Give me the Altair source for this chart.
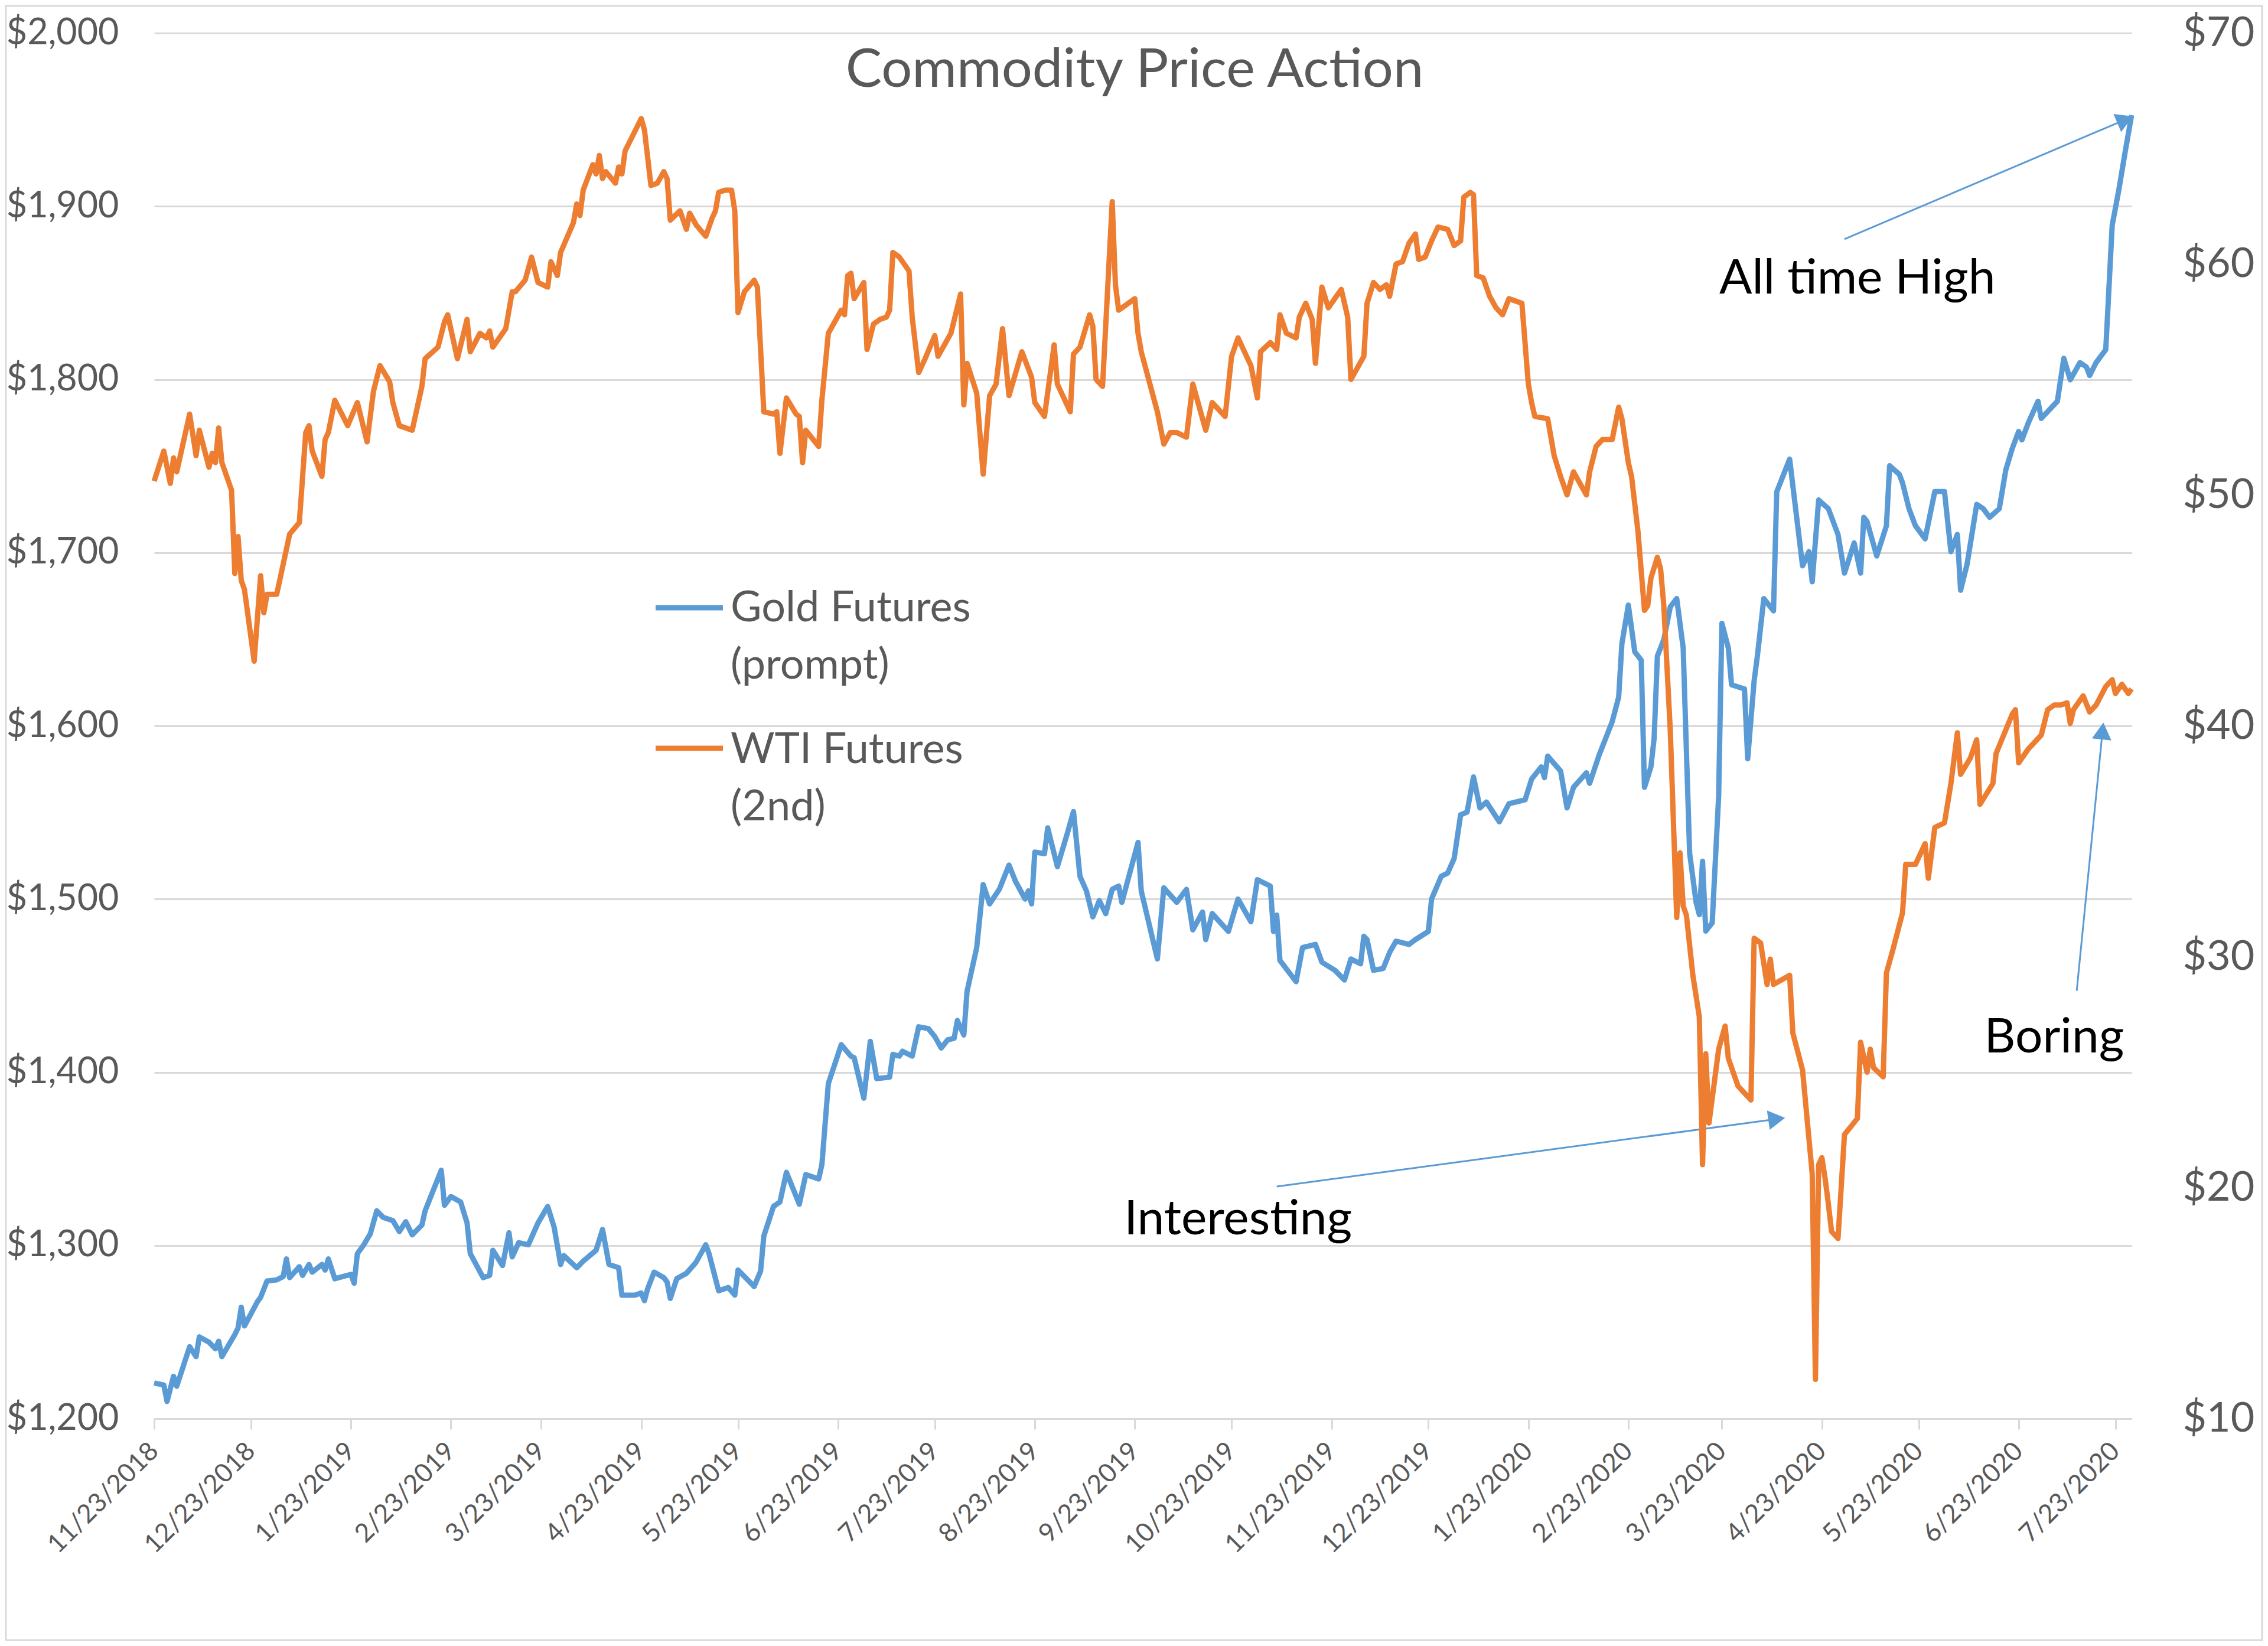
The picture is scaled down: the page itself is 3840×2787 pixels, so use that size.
import altair as alt
import pandas as pd

# ---------------- data ----------------
gold_dates = [
"2018-11-23","2018-11-26","2018-11-27","2018-11-29","2018-11-30","2018-12-04","2018-12-06","2018-12-07",
"2018-12-10","2018-12-12","2018-12-13","2018-12-14","2018-12-18","2018-12-19","2018-12-20","2018-12-21",
"2018-12-25","2018-12-26","2018-12-28","2018-12-31","2019-01-02","2019-01-03","2019-01-04","2019-01-07",
"2019-01-08","2019-01-10","2019-01-11","2019-01-14","2019-01-15","2019-01-16","2019-01-18","2019-01-23",
"2019-01-24","2019-01-25","2019-01-27","2019-01-29","2019-01-31","2019-02-02","2019-02-05","2019-02-07",
"2019-02-09","2019-02-11","2019-02-14","2019-02-15","2019-02-20","2019-02-21","2019-02-23","2019-02-26",
"2019-02-28","2019-03-01","2019-03-05","2019-03-07","2019-03-08","2019-03-11","2019-03-13","2019-03-14",
"2019-03-16","2019-03-19","2019-03-22","2019-03-25","2019-03-27","2019-03-29","2019-03-30","2019-04-03",
"2019-04-05","2019-04-09","2019-04-11","2019-04-13","2019-04-16","2019-04-17","2019-04-21","2019-04-23",
"2019-04-24","2019-04-25","2019-04-27","2019-04-30","2019-05-01","2019-05-02","2019-05-04","2019-05-07",
"2019-05-10","2019-05-13","2019-05-14","2019-05-17","2019-05-20","2019-05-22","2019-05-23","2019-05-28",
"2019-05-30","2019-05-31","2019-06-03","2019-06-05","2019-06-07","2019-06-11","2019-06-13","2019-06-17",
"2019-06-18","2019-06-20","2019-06-24","2019-06-27","2019-06-28","2019-07-01","2019-07-03","2019-07-05",
"2019-07-09","2019-07-10","2019-07-12","2019-07-13","2019-07-16","2019-07-18","2019-07-21","2019-07-23",
"2019-07-25","2019-07-27","2019-07-29","2019-07-30","2019-08-01","2019-08-02","2019-08-05","2019-08-07",
"2019-08-09","2019-08-12","2019-08-15","2019-08-17","2019-08-20","2019-08-21","2019-08-22","2019-08-23",
"2019-08-26","2019-08-27","2019-08-30","2019-09-02","2019-09-04","2019-09-06","2019-09-08","2019-09-10",
"2019-09-12","2019-09-14","2019-09-16","2019-09-18","2019-09-19","2019-09-24","2019-09-25","2019-09-30",
"2019-10-02","2019-10-06","2019-10-09","2019-10-11","2019-10-14","2019-10-15","2019-10-17","2019-10-22",
"2019-10-25","2019-10-29","2019-10-31","2019-11-04","2019-11-05","2019-11-06","2019-11-07","2019-11-12",
"2019-11-14","2019-11-18","2019-11-20","2019-11-24","2019-11-27","2019-11-29","2019-12-02","2019-12-03",
"2019-12-04","2019-12-06","2019-12-09","2019-12-11","2019-12-13","2019-12-17","2019-12-19","2019-12-23",
"2019-12-24","2019-12-27","2019-12-29","2019-12-31","2020-01-02","2020-01-04","2020-01-06","2020-01-08",
"2020-01-10","2020-01-14","2020-01-17","2020-01-22","2020-01-24","2020-01-27","2020-01-28","2020-01-29",
"2020-02-02","2020-02-04","2020-02-06","2020-02-10","2020-02-11","2020-02-14","2020-02-18","2020-02-20",
"2020-02-21","2020-02-23","2020-02-25","2020-02-27","2020-02-28","2020-03-01","2020-03-02","2020-03-03",
"2020-03-05","2020-03-07","2020-03-09","2020-03-11","2020-03-13","2020-03-15","2020-03-16","2020-03-17",
"2020-03-18","2020-03-20","2020-03-22","2020-03-23","2020-03-25","2020-03-26","2020-03-30","2020-03-31",
"2020-04-02","2020-04-03","2020-04-05","2020-04-08","2020-04-09","2020-04-13","2020-04-15","2020-04-17",
"2020-04-19","2020-04-20","2020-04-22","2020-04-25","2020-04-28","2020-04-30","2020-05-03","2020-05-05",
"2020-05-06","2020-05-07","2020-05-10","2020-05-13","2020-05-14","2020-05-17","2020-05-18","2020-05-20",
"2020-05-22","2020-05-25","2020-05-28","2020-05-31","2020-06-02","2020-06-04","2020-06-05","2020-06-07",
"2020-06-10","2020-06-12","2020-06-14","2020-06-17","2020-06-19","2020-06-21","2020-06-23","2020-06-24",
"2020-06-26","2020-06-29","2020-06-30","2020-07-05","2020-07-07","2020-07-09","2020-07-12","2020-07-14",
"2020-07-15","2020-07-17","2020-07-20","2020-07-22","2020-07-24","2020-07-26","2020-07-28",
]
gold_values = [
1220.6,1219.4,1209.9,1224.4,1218.7,1241.5,1235.8,1247.2,
1244.1,1240.3,1244.7,1235.8,1248.5,1252.3,1264.3,1253.5,
1267.5,1270.0,1279.5,1280.1,1282.0,1292.2,1281.4,1287.7,
1282.7,1289.0,1284.6,1289.0,1285.8,1292.2,1280.8,1283.3,
1278.2,1295.3,1300.4,1306.7,1320.0,1316.2,1314.3,1308.0,
1313.7,1306.1,1311.8,1320.0,1343.4,1323.2,1328.2,1325.1,
1313.0,1295.3,1281.4,1282.7,1297.2,1288.4,1307.3,1293.4,
1301.6,1300.4,1313.0,1322.5,1310.5,1289.0,1294.1,1287.1,
1290.9,1297.2,1309.2,1289.0,1287.1,1271.3,1271.3,1272.5,
1268.1,1275.1,1284.6,1281.4,1278.9,1269.4,1280.8,1283.9,
1290.3,1300.4,1295.3,1273.8,1275.7,1271.3,1285.8,1276.3,
1285.2,1305.4,1322.5,1325.1,1342.2,1323.8,1340.9,1338.4,
1346.7,1393.5,1415.9,1409.3,1408.4,1385.0,1417.8,1396.3,
1397.2,1410.3,1409.3,1412.1,1409.3,1426.2,1425.2,1420.6,
1414.0,1418.7,1419.6,1429.9,1421.5,1446.7,1472.0,1508.4,
1497.2,1505.6,1519.6,1510.3,1500.0,1504.7,1497.2,1527.1,
1526.2,1541.1,1518.7,1537.4,1550.5,1513.1,1504.7,1489.7,
1499.1,1491.6,1505.6,1507.5,1498.1,1532.7,1504.7,1465.4,
1506.5,1498.1,1505.6,1482.2,1492.5,1476.6,1491.6,1481.3,
1500.0,1486.9,1511.2,1507.5,1481.3,1490.7,1464.5,1452.3,
1472.0,1473.8,1463.5,1458.9,1453.3,1465.4,1462.6,1478.5,
1476.6,1458.9,1459.9,1469.2,1475.7,1473.8,1476.6,1481.3,
1500.0,1513.1,1515.0,1523.4,1548.6,1550.2,1570.5,1552.6,
1556.0,1544.6,1555.0,1557.3,1569.2,1576.3,1570.1,1582.5,
1573.9,1552.6,1564.5,1572.9,1566.8,1583.4,1602.4,1616.6,
1647.4,1669.7,1642.7,1637.9,1564.5,1576.3,1592.9,1640.3,
1649.8,1668.7,1673.5,1645.0,1526.5,1498.1,1491.0,1521.8,
1481.5,1486.3,1559.7,1659.2,1645.0,1623.7,1621.3,1581.0,
1626.1,1640.3,1673.5,1666.4,1735.1,1754.0,1723.2,1692.4,
1700.6,1683.2,1730.4,1725.4,1710.5,1688.2,1705.6,1688.2,
1720.4,1717.9,1698.1,1715.5,1750.2,1745.2,1740.3,1725.4,
1715.5,1708.0,1735.3,1735.3,1700.6,1710.5,1678.3,1693.2,
1727.9,1725.4,1720.4,1725.4,1747.7,1760.1,1770.0,1765.1,
1775.0,1787.4,1777.5,1787.4,1812.2,1799.8,1809.7,1807.2,
1802.3,1809.7,1817.2,1889.1,1908.9,1931.2,1952.6,
]

wti_dates = [
"2018-11-23","2018-11-26","2018-11-28","2018-11-29","2018-11-30","2018-12-04","2018-12-06","2018-12-07",
"2018-12-10","2018-12-11","2018-12-12","2018-12-13","2018-12-14","2018-12-17","2018-12-18","2018-12-19",
"2018-12-20","2018-12-21","2018-12-24","2018-12-26","2018-12-27","2018-12-28","2018-12-31","2019-01-04",
"2019-01-07","2019-01-09","2019-01-10","2019-01-11","2019-01-14","2019-01-15","2019-01-16","2019-01-18",
"2019-01-22","2019-01-25","2019-01-28","2019-01-30","2019-02-01","2019-02-04","2019-02-05","2019-02-07",
"2019-02-11","2019-02-14","2019-02-15","2019-02-19","2019-02-21","2019-02-22","2019-02-25","2019-02-28",
"2019-03-01","2019-03-04","2019-03-06","2019-03-07","2019-03-08","2019-03-12","2019-03-14","2019-03-15",
"2019-03-18","2019-03-20","2019-03-22","2019-03-25","2019-03-26","2019-03-28","2019-03-29","2019-04-02",
"2019-04-03","2019-04-04","2019-04-05","2019-04-08","2019-04-09","2019-04-10","2019-04-11","2019-04-12",
"2019-04-15","2019-04-16","2019-04-17","2019-04-18","2019-04-23","2019-04-24","2019-04-26","2019-04-28",
"2019-04-30","2019-05-01","2019-05-02","2019-05-05","2019-05-07","2019-05-08","2019-05-10","2019-05-13",
"2019-05-15","2019-05-16","2019-05-17","2019-05-19","2019-05-21","2019-05-22","2019-05-23","2019-05-25",
"2019-05-28","2019-05-29","2019-05-31","2019-06-03","2019-06-04","2019-06-05","2019-06-07","2019-06-10",
"2019-06-11","2019-06-12","2019-06-13","2019-06-17","2019-06-18","2019-06-20","2019-06-22","2019-06-24",
"2019-06-25","2019-06-26","2019-06-27","2019-06-28","2019-07-01","2019-07-02","2019-07-04","2019-07-06",
"2019-07-08","2019-07-09","2019-07-10","2019-07-12","2019-07-15","2019-07-16","2019-07-18","2019-07-20",
"2019-07-23","2019-07-24","2019-07-28","2019-07-31","2019-08-01","2019-08-02","2019-08-05","2019-08-07",
"2019-08-09","2019-08-11","2019-08-13","2019-08-15","2019-08-19","2019-08-22","2019-08-23","2019-08-26",
"2019-08-29","2019-08-30","2019-09-03","2019-09-04","2019-09-06","2019-09-09","2019-09-10","2019-09-11",
"2019-09-13","2019-09-16","2019-09-17","2019-09-18","2019-09-19","2019-09-23","2019-09-24","2019-09-25",
"2019-09-30","2019-10-02","2019-10-04","2019-10-06","2019-10-09","2019-10-11","2019-10-15","2019-10-17",
"2019-10-21","2019-10-23","2019-10-25","2019-10-29","2019-10-31","2019-11-01","2019-11-04","2019-11-06",
"2019-11-07","2019-11-09","2019-11-12","2019-11-13","2019-11-15","2019-11-17","2019-11-18","2019-11-20",
"2019-11-22","2019-11-24","2019-11-26","2019-11-28","2019-11-29","2019-12-03","2019-12-04","2019-12-06",
"2019-12-08","2019-12-10","2019-12-11","2019-12-13","2019-12-15","2019-12-17","2019-12-19","2019-12-20",
"2019-12-22","2019-12-24","2019-12-26","2019-12-29","2019-12-31","2020-01-02","2020-01-03","2020-01-05",
"2020-01-06","2020-01-07","2020-01-09","2020-01-11","2020-01-13","2020-01-15","2020-01-17","2020-01-21",
"2020-01-23","2020-01-24","2020-01-25","2020-01-29","2020-01-31","2020-02-02","2020-02-04","2020-02-06",
"2020-02-10","2020-02-11","2020-02-13","2020-02-15","2020-02-18","2020-02-20","2020-02-21","2020-02-23",
"2020-02-24","2020-02-26","2020-02-28","2020-02-29","2020-03-01","2020-03-03","2020-03-04","2020-03-05",
"2020-03-07","2020-03-09","2020-03-10","2020-03-11","2020-03-12","2020-03-14","2020-03-16","2020-03-17",
"2020-03-18","2020-03-19","2020-03-22","2020-03-24","2020-03-25","2020-03-28","2020-04-01","2020-04-02",
"2020-04-04","2020-04-06","2020-04-07","2020-04-08","2020-04-13","2020-04-14","2020-04-17","2020-04-20",
"2020-04-21","2020-04-22","2020-04-23","2020-04-24","2020-04-25","2020-04-26","2020-04-28","2020-04-30",
"2020-05-04","2020-05-05","2020-05-07","2020-05-08","2020-05-09","2020-05-12","2020-05-13","2020-05-15",
"2020-05-18","2020-05-19","2020-05-22","2020-05-25","2020-05-26","2020-05-28","2020-05-31","2020-06-02",
"2020-06-04","2020-06-05","2020-06-08","2020-06-10","2020-06-11","2020-06-15","2020-06-16","2020-06-21",
"2020-06-22","2020-06-23","2020-06-26","2020-06-30","2020-07-02","2020-07-04","2020-07-06","2020-07-08",
"2020-07-09","2020-07-10","2020-07-13","2020-07-15","2020-07-17","2020-07-20","2020-07-22","2020-07-23",
"2020-07-25","2020-07-27","2020-07-28",
]
wti_values = [
50.6,51.9,50.5,51.6,51.0,53.5,51.7,52.8,
51.2,51.8,51.4,52.9,51.4,50.2,46.6,48.2,
46.3,45.9,42.8,46.5,44.9,45.7,45.7,48.3,
48.8,52.7,53.0,51.9,50.8,52.4,52.7,54.1,
53.0,54.0,52.3,54.5,55.6,54.9,54.0,53.0,
52.8,54.7,55.9,56.4,57.5,57.8,55.9,57.6,
56.2,57.0,56.8,57.1,56.4,57.2,58.8,58.8,
59.3,60.3,59.2,59.0,60.1,59.5,60.5,61.8,
62.6,62.1,63.2,64.3,63.9,64.7,63.7,64.0,
63.5,64.2,63.9,64.9,66.3,65.8,63.4,63.5,
64.0,63.7,61.9,62.3,61.5,62.2,61.7,61.2,
62.0,62.3,63.1,63.2,63.2,62.3,57.9,58.8,
59.3,59.0,53.6,53.5,53.6,51.8,54.2,53.5,
53.4,51.4,52.8,52.1,54.1,57.0,57.5,58.0,
57.8,59.5,59.6,58.5,59.2,56.3,57.4,57.6,
57.7,58.0,60.5,60.3,59.7,57.7,55.3,55.9,
56.9,56.0,57.0,58.7,53.9,55.7,54.4,50.9,
54.3,54.8,57.2,54.3,56.2,55.1,54.0,53.4,
56.5,54.8,53.6,56.1,56.4,57.8,57.3,55.0,
54.7,62.7,59.1,58.0,58.1,58.5,57.0,56.2,
53.6,52.2,52.7,52.7,52.5,54.8,52.8,54.0,
53.4,56.0,56.8,55.6,54.2,56.2,56.6,56.3,
57.8,57.0,56.8,57.7,58.3,57.6,55.7,59.0,
58.1,58.5,58.9,57.7,55.0,56.0,58.3,59.2,
58.9,59.1,58.6,60.0,60.1,60.9,61.3,60.2,
60.3,61.0,61.6,61.5,60.8,61.0,62.9,63.1,
63.0,59.5,59.4,58.6,58.1,57.8,58.5,58.3,
54.8,54.0,53.4,53.3,51.7,50.8,50.0,51.0,
50.0,51.0,52.1,52.4,52.4,53.8,53.3,51.4,
50.8,48.4,45.0,45.2,46.4,47.3,46.8,45.2,
39.8,31.7,34.5,32.2,31.8,29.2,27.4,21.0,
25.8,22.8,26.0,27.0,25.6,24.4,23.8,30.8,
30.6,28.8,29.9,28.8,29.2,26.7,25.1,20.6,
11.7,21.0,21.3,20.4,19.3,18.1,17.8,22.3,
23.0,26.3,25.0,26.0,25.2,24.8,29.3,30.3,
31.9,34.0,34.0,34.9,33.4,35.6,35.8,37.5,
39.7,37.9,38.6,39.4,36.6,37.5,38.8,40.5,
40.7,38.4,39.0,39.6,40.7,40.9,40.9,41.0,
40.1,40.7,41.3,40.6,40.9,41.7,42.0,41.4,
41.8,41.4,41.6,
]

tick_labels = [
"2018-11-23","2018-12-23","2019-01-23","2019-02-23","2019-03-23","2019-04-23","2019-05-23",
"2019-06-23","2019-07-23","2019-08-23","2019-09-23","2019-10-23","2019-11-23","2019-12-23",
"2020-01-23","2020-02-23","2020-03-23","2020-04-23","2020-05-23","2020-06-23","2020-07-23",
]
gold_ticks = [1200, 1300, 1400, 1500, 1600, 1700, 1800, 1900, 2000]
wti_ticks = [10, 20, 30, 40, 50, 60, 70]

# annotations (arrow start -> arrow head, in date / gold-price space)
ann_labels = ["All time High", "Interesting", "Boring"]
ann_label_dates = ["2020-05-04", "2019-10-25", "2020-07-04"]
ann_label_prices = [1858.0, 1315.0, 1420.0]
arrow_start_dates = ["2020-04-30", "2019-11-06", "2020-07-11"]
arrow_start_prices = [1881.0, 1334.0, 1447.0]
arrow_end_dates = ["2020-07-26", "2020-04-09", "2020-07-19"]
arrow_end_prices = [1950.0, 1373.0, 1597.0]
arrow_angles = [67, 82, 6]

# ---------------- styling ----------------
BLUE = "#5B9BD5"
ORANGE = "#ED7D31"
GRID = "#D9D9D9"
GRAY = "#595959"
FONT = "Lato"
W, H = 3348, 2346
LW = 9


def dt(s):
    y, m, d = s.split("-")
    return alt.DateTime(year=int(y), month=int(m), date=int(d), utc=True)


x_scale = alt.Scale(type="utc", domain=[dt(gold_dates[0]), dt(gold_dates[-1])], nice=False)
gold_scale = alt.Scale(domain=[1200, 2000], nice=False, zero=False)
wti_scale = alt.Scale(domain=[10, 70], nice=False, zero=False)

gold_df = pd.DataFrame({"date": gold_dates, "price": gold_values})
wti_df = pd.DataFrame({"date": wti_dates, "price": wti_values})
ann_df = pd.DataFrame({
    "label": ann_labels, "ldate": ann_label_dates, "lprice": ann_label_prices,
    "d0": arrow_start_dates, "p0": arrow_start_prices,
    "d1": arrow_end_dates, "p1": arrow_end_prices, "angle": arrow_angles,
})
one = pd.DataFrame({"k": [0]})

x_axis = alt.Axis(
    values=[dt(s) for s in tick_labels], labelExpr="utcFormat(datum.value, '%-m/%-d/%Y')",
    labelAngle=-45, labelAlign="right", labelBaseline="middle", labelFont=FONT,
    labelFontSize=44, labelColor=GRAY, labelPadding=30, labelOverlap=False, labelFlush=False,
    labelLimit=600, tickColor=GRID, tickSize=18, tickWidth=3, domainColor=GRID, domainWidth=3,
    grid=False, title=None,
)
gold_axis = alt.Axis(
    orient="left", values=gold_ticks, format="$,.0f", labelFont=FONT, labelFontSize=61,
    labelColor=GRAY, labelPadding=60, labelLimit=600, domain=False, ticks=False, grid=True,
    gridColor=GRID, gridWidth=3, title=None)
wti_axis = alt.Axis(
    orient="right", values=wti_ticks, format="$.0f", labelFont=FONT, labelFontSize=70,
    labelColor=GRAY, labelPadding=86, labelAlign="left", labelLimit=600, domain=False, ticks=False,
    grid=False, title=None)

gold_line = alt.Chart(gold_df).mark_line(color=BLUE, strokeWidth=LW, strokeJoin="round").encode(
    x=alt.X("date:T", scale=x_scale, axis=x_axis),
    y=alt.Y("price:Q", scale=gold_scale, axis=gold_axis),
)

wti_line = alt.Chart(wti_df).mark_line(color=ORANGE, strokeWidth=LW, strokeJoin="round").encode(
    x=alt.X("date:T", scale=x_scale, axis=x_axis),
    y=alt.Y("price:Q", scale=wti_scale, axis=wti_axis),
)

arrows = alt.Chart(ann_df).mark_rule(color=BLUE, strokeWidth=3).encode(
    x=alt.X("d0:T", scale=x_scale, axis=x_axis), x2="d1:T",
    y=alt.Y("p0:Q", scale=gold_scale, axis=gold_axis), y2="p1:Q",
)
heads = alt.Chart(ann_df).mark_point(shape="triangle-up", filled=True, size=1100, color=BLUE, opacity=1).encode(
    x=alt.X("d1:T", scale=x_scale, axis=x_axis),
    y=alt.Y("p1:Q", scale=gold_scale, axis=gold_axis),
    angle=alt.Angle("angle:Q", scale=None),
)
ann_text = alt.Chart(ann_df).mark_text(font=FONT, fontSize=82, color="black", align="center", baseline="middle").encode(
    x=alt.X("ldate:T", scale=x_scale, axis=x_axis),
    y=alt.Y("lprice:Q", scale=gold_scale, axis=gold_axis),
    text="label:N",
)

title = alt.Chart(one).mark_text(font=FONT, fontSize=92, color=GRAY, align="center", baseline="alphabetic").encode(
    x=alt.value(1660), y=alt.value(91), text=alt.value("Commodity Price Action"))

leg_gold_line = alt.Chart(one).mark_rule(color=BLUE, strokeWidth=LW).encode(
    x=alt.value(849), x2=alt.value(963), y=alt.value(973))
leg_wti_line = alt.Chart(one).mark_rule(color=ORANGE, strokeWidth=LW).encode(
    x=alt.value(849), x2=alt.value(963), y=alt.value(1211))


def leg_text(txt, yy):
    return alt.Chart(one).mark_text(font=FONT, fontSize=72, color=GRAY, align="left", baseline="alphabetic").encode(
        x=alt.value(976), y=alt.value(yy), text=alt.value(txt))


frame = alt.Chart(one).mark_rect(fill=None, stroke=GRID, strokeWidth=3).encode(
    x=alt.value(-251), x2=alt.value(W + 221), y=alt.value(-46), y2=alt.value(H + 375))

gold_group = alt.layer(
    gold_line, arrows, heads, ann_text, title,
    leg_gold_line, leg_wti_line,
    leg_text("Gold Futures", 996), leg_text("(prompt)", 1093),
    leg_text("WTI Futures", 1236), leg_text("(2nd)", 1333), frame,
)

chart = alt.layer(gold_group, wti_line).resolve_scale(y="independent").properties(
    width=W, height=H,
    autosize=alt.AutoSizeParams(type="none"),
    padding={"left": 253, "top": 48, "right": 223, "bottom": 377},
    background="white",
).configure_view(stroke=None)

chart.save("out.html", embed_options={"renderer": "svg", "actions": False})
